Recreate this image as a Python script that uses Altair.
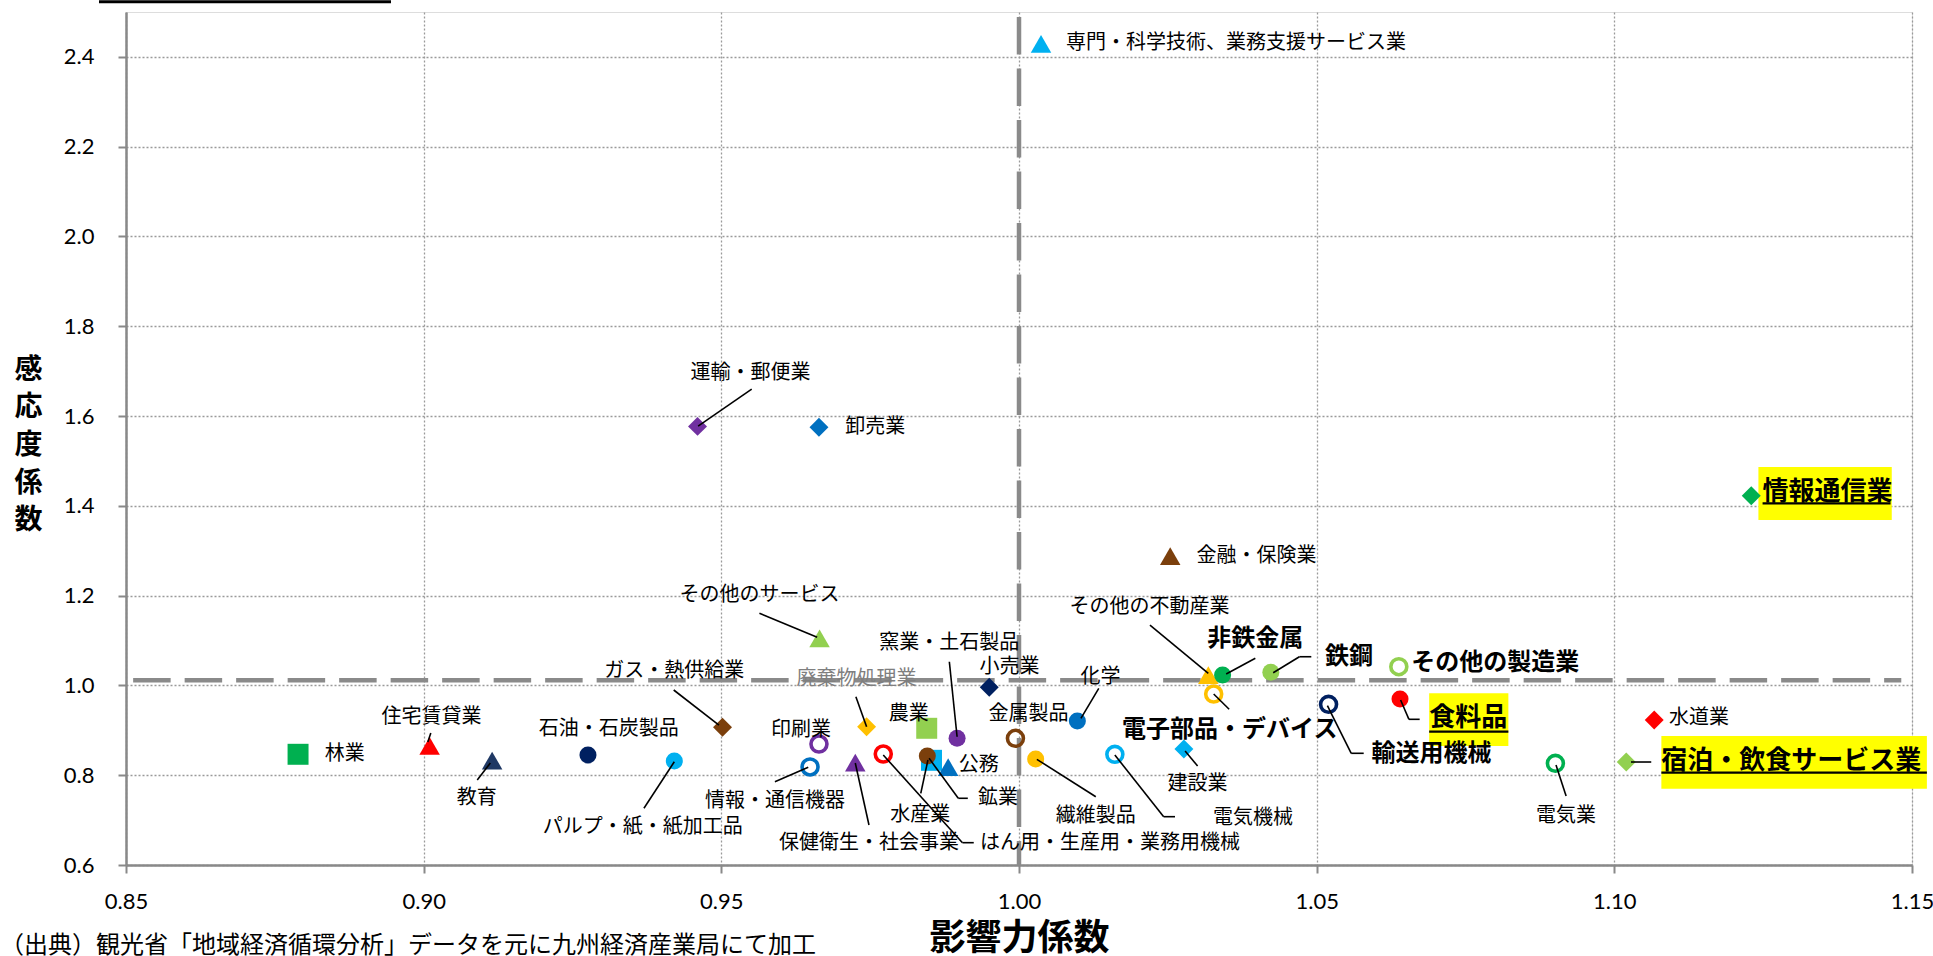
import altair as alt
import pandas as pd

FONT_JP = "Noto Sans CJK JP"
FONT_NUM = "Lato"
BROWN = "#7B3F0C"
GRID_GRAY = "#9A9A9A"
FRAME_GRAY = "#898989"
REF_GRAY = "#8A8A8A"

# ---- industries: influence coefficient (x) and sensitivity coefficient (y) ----
names = [
    "林業", "住宅賃貸業", "教育", "石油・石炭製品", "パルプ・紙・紙加工品", "ガス・熱供給業",
    "その他のサービス", "印刷業", "情報・通信機器", "保健衛生・社会事業", "廃棄物処理業",
    "はん用・生産用・業務用機械", "水産業", "鉱業", "公務", "農業", "窯業・土石製品", "小売業",
    "金属製品", "化学", "繊維製品", "電気機械", "建設業", "その他の不動産業", "非鉄金属", "鉄鋼",
    "電子部品・デバイス", "輸送用機械", "その他の製造業", "食料品", "水道業", "電気業",
    "宿泊・飲食サービス業", "情報通信業", "専門・科学技術、業務支援サービス業", "運輸・郵便業",
    "卸売業", "金融・保険業",
]
influence = [
    0.8789, 0.9010, 0.9115, 0.9276, 0.9421, 0.9502, 0.9665, 0.9664, 0.9649, 0.9725, 0.9744,
    0.9772, 0.9853, 0.9846, 0.9881, 0.9845, 0.9896, 0.9950, 0.9994, 1.0098, 1.0028, 1.0161,
    1.0277, 1.0318, 1.0342, 1.0423, 1.0327, 1.0520, 1.0638, 1.0640, 1.1067, 1.0901, 1.1020,
    1.1230, 1.0037, 0.9460, 0.9664, 1.0254,
]
sensitivity = [
    0.8466, 0.8655, 0.8327, 0.8450, 0.8316, 0.9067, 1.1049, 0.8695, 0.8183, 0.8283, 0.9080,
    0.8472, 0.8332, 0.8428, 0.8178, 0.9045, 0.8822, 0.9958, 0.8822, 0.9207, 0.8361, 0.8465,
    0.8584, 1.0232, 1.0232, 1.0292, 0.9808, 0.9579, 1.0417, 0.9697, 0.9229, 0.8265, 0.8294,
    1.4225, 2.4290, 1.5770, 1.5750, 1.2880,
]
shapes = [
    "square", "triangle-up", "triangle-up", "circle", "circle", "diamond", "triangle-up",
    "circle", "circle", "triangle-up", "diamond", "circle", "square", "circle", "triangle-up",
    "square", "circle", "diamond", "circle", "circle", "circle", "circle", "diamond",
    "triangle-up", "circle", "circle", "circle", "circle", "circle", "circle", "diamond",
    "circle", "diamond", "diamond", "triangle-up", "diamond", "diamond", "triangle-up",
]
colors = [
    "#00B050", "#FF0000", "#1F3864", "#002060", "#00B0F0", BROWN, "#92D050", "#7030A0",
    "#0070C0", "#7030A0", "#FFC000", "#FF0000", "#00B0F0", BROWN, "#0070C0", "#92D050",
    "#7030A0", "#002060", BROWN, "#0070C0", "#FFC000", "#00B0F0", "#00B0F0", "#FFC000",
    "#00B050", "#92D050", "#FFC000", "#002060", "#92D050", "#FF0000", "#FF0000", "#00B050",
    "#92D050", "#00B050", "#00B0F0", "#7030A0", "#0070C0", BROWN,
]
hollow = [
    False, False, False, False, False, False, False, True, True, False, False, True, False,
    False, False, False, False, False, True, False, False, True, False, False, False, False,
    True, True, True, False, False, True, False, False, False, False, False, False,
]

# ---- label anchors (data units) ----
label_x = [
    0.8834, 0.9013, 0.9089, 0.9311, 0.9368, 0.9421, 0.9564, 0.9634, 0.9590, 0.9748, 0.9727,
    1.0153, 0.9834, 0.9931, 0.9899, 0.9815, 0.9883, 0.9984, 1.0016, 1.0137, 1.0129, 1.0393,
    1.0300, 1.0219, 1.0397, 1.0514, 1.0354, 1.0592, 1.0659, 1.0689, 1.1092, 1.0919, 1.1079,
    1.1249, 1.0079, 0.9549, 0.9708, 1.0298,
]
label_y = [
    0.8472, 0.9303, 0.7486, 0.9022, 0.6853, 1.0321, 1.2013, 0.9007, 0.7432, 0.6483, 1.0136,
    0.6483, 0.7114, 0.7486, 0.8227, 0.9363, 1.0938, 1.0403, 0.9363, 1.0180, 0.7098, 0.7040,
    0.7804, 1.1739, 1.1027, 1.0626, 0.9007, 0.8472, 1.0506, 0.9267, 0.9267, 0.7098, 0.8323,
    1.4314, 2.4300, 1.6958, 1.5755, 1.2882,
]
label_anchor = [
    "left", "center", "center", "center", "center", "center", "center", "center", "center",
    "center", "center", "center", "center", "left", "left", "center", "center", "center",
    "center", "center", "center", "center", "center", "center", "center", "left", "center",
    "left", "left", "left", "left", "center", "left", "left", "left", "center", "left", "left",
]
# n = normal, g = grey, b = bold, h = bold on yellow
label_style = [
    "n", "n", "n", "n", "n", "n", "n", "n", "n", "n", "g", "n", "n", "n", "n", "n", "n", "n",
    "n", "n", "n", "n", "n", "n", "b", "b", "b", "b", "b", "h", "n", "n", "h", "h", "n", "n",
    "n", "n",
]

# ---- leader lines (segments in data units) ----
seg_x1 = [0.9012, 0.9090, 0.9370, 0.9420, 0.9564, 0.9590, 0.9748, 0.9726, 0.9772, 0.9905,
          0.9835, 0.9849, 0.9898, 0.9883, 1.0134, 1.0129, 1.0161, 1.0243, 1.0300, 1.0220,
          1.0397, 1.0427, 1.0471, 1.0327, 1.0518, 1.0558, 1.0641, 1.0655, 1.0919, 1.1028,
          0.9551]
seg_y1 = [0.8940, 0.7893, 0.7263, 0.9898, 1.1606, 0.7855, 0.6891, 0.9748, 0.8450, 0.6497,
          0.7597, 0.8376, 0.7486, 1.0528, 0.9935, 0.7521, 0.8450, 0.7076, 0.8205, 1.1345,
          1.0604, 1.0283, 1.0639, 0.9808, 0.9548, 0.8488, 0.9675, 0.9245, 0.7537, 0.8294,
          1.6601]
seg_x2 = [0.9007, 0.9112, 0.9421, 0.9496, 0.9661, 0.9646, 0.9725, 0.9744, 0.9905, 0.9924,
          0.9847, 0.9898, 0.9914, 0.9896, 1.0104, 1.0030, 1.0243, 1.0262, 1.0279, 1.0318,
          1.0348, 1.0471, 1.0491, 1.0353, 1.0558, 1.0579, 1.0655, 1.0673, 1.0902, 1.1062,
          0.9461]
seg_y2 = [0.8740, 0.8272, 0.8300, 0.9118, 1.1071, 0.8176, 0.8272, 0.9080, 0.6497, 0.6497,
          0.8339, 0.7486, 0.7486, 0.8857, 0.9267, 0.8354, 0.7076, 0.7076, 0.8539, 1.0270,
          1.0254, 1.0639, 1.0639, 0.9468, 0.8488, 0.8488, 0.9245, 0.9245, 0.8227, 0.8294,
          1.5777]

# ---- yellow highlight boxes and underlines ----
box_x1 = [1.0689, 1.1079, 1.1242]
box_x2 = [1.0822, 1.1525, 1.1466]
box_y1 = [0.8650, 0.7700, 1.3684]
box_y2 = [0.9824, 0.8873, 1.4864]
underline_x1 = [1.0689, 1.1079, 1.1249]
underline_x2 = [1.0822, 1.1525, 1.1464]
underline_y = [0.8969, 0.8056, 1.4056]

# ---- reference lines ----
ref_x1 = [0.8512, 1.0000]
ref_x2 = [1.1482, 1.0000]
ref_y1 = [1.0114, 2.4890]
ref_y2 = [1.0114, 0.6000]

x_ticks = [0.85, 0.90, 0.95, 1.00, 1.05, 1.10, 1.15]
y_ticks = [0.6, 0.8, 1.0, 1.2, 1.4, 1.6, 1.8, 2.0, 2.2, 2.4]

source_note = "（出典）観光省「地域経済循環分析」データを元に九州経済産業局にて加工"

W, H = 1786, 853

# ---- tables ----
size_by_shape = {"circle": 290, "square": 440, "diamond": 360, "triangle-up": 420}
pts = pd.DataFrame({
    "name": names, "x": influence, "y": sensitivity, "shape": shapes,
    "lx": label_x, "ly": label_y, "anchor": label_anchor, "style": label_style,
})
pts["fill"] = ["transparent" if h else c for c, h in zip(colors, hollow)]
pts["stroke"] = colors
pts["sw"] = [3.6 if h else 0 for h in hollow]
pts["size"] = [255 if h else size_by_shape[s] for s, h in zip(shapes, hollow)]

segs = pd.DataFrame({"x1": seg_x1, "y1": seg_y1, "x2": seg_x2, "y2": seg_y2})
boxes = pd.DataFrame({"x1": box_x1, "x2": box_x2, "y1": box_y1, "y2": box_y2})
ulines = pd.DataFrame({"x1": underline_x1, "x2": underline_x2, "y": underline_y})
refs = pd.DataFrame({"x1": ref_x1, "x2": ref_x2, "y1": ref_y1, "y2": ref_y2})
one = pd.DataFrame({"k": [0]})

x_scale = alt.Scale(domain=[0.85, 1.15], nice=False, zero=False)
y_scale = alt.Scale(domain=[0.6, 2.5], nice=False, zero=False)

common_axis = dict(
    labelFont=FONT_NUM, labelFontSize=22, labelColor="black", labelFlush=False,
    labelOverlap=False, tickSize=8, tickWidth=2, tickColor=FRAME_GRAY,
    domainColor=FRAME_GRAY, domainWidth=2.5, grid=True, gridDash=[2, 2],
    gridColor=GRID_GRAY, gridWidth=1.3, titleFont=FONT_JP, titleColor="black",
    titleFontWeight="bold",
)

x_axis = alt.Axis(
    values=x_ticks, format=".2f", labelPadding=18, title="影響力係数",
    titleFontSize=36, titleX=W / 2, titleY=73, titleAlign="center",
    titleBaseline="middle", **common_axis,
)
# vertical title: one character per line, first line centred at titleY
y_axis = alt.Axis(
    values=y_ticks, format=".1f", labelPadding=24, title=["感", "応", "度", "係", "数"],
    titleAngle=0, titleFontSize=28, titleLineHeight=37.7, titleX=-98, titleY=358,
    titleAlign="center", titleBaseline="middle", **common_axis,
)


def xy(xf, yf):
    # every layer carries the same axis definition so the merged axes stay intact
    return dict(
        x=alt.X(xf, type="quantitative", scale=x_scale, axis=x_axis),
        y=alt.Y(yf, type="quantitative", scale=y_scale, axis=y_axis),
    )


ref_lines = alt.Chart(refs).mark_rule(
    color=REF_GRAY, strokeWidth=4.5, strokeDash=[37.5, 14]
).encode(**xy("x1", "y1"), x2="x2:Q", y2="y2:Q")

hl_boxes = alt.Chart(boxes).mark_rect(color="#FFFF00").encode(
    **xy("x1", "y1"), x2="x2:Q", y2="y2:Q"
)

points = alt.Chart(pts).mark_point(opacity=1, filled=True).encode(
    **xy("x", "y"),
    shape=alt.Shape("shape:N", scale=None),
    fill=alt.Fill("fill:N", scale=None),
    stroke=alt.Stroke("stroke:N", scale=None),
    strokeWidth=alt.StrokeWidth("sw:Q", scale=None),
    size=alt.Size("size:Q", scale=None),
)

leaders = alt.Chart(segs).mark_rule(color="black", strokeWidth=1.6).encode(
    **xy("x1", "y1"), x2="x2:Q", y2="y2:Q"
)

underlines = alt.Chart(ulines).mark_rule(color="black", strokeWidth=2.2).encode(
    **xy("x1", "y"), x2="x2:Q"
)


def labels(style, anchor, size, weight, color="black"):
    return alt.Chart(pts).transform_filter(
        (alt.datum.style == style) & (alt.datum.anchor == anchor)
    ).mark_text(
        align=anchor, baseline="middle", font=FONT_JP, fontSize=size,
        fontWeight=weight, color=color,
    ).encode(**xy("lx", "ly"), text="name:N")


text_layers = [
    labels("n", "center", 20, "normal"),
    labels("n", "left", 20, "normal"),
    labels("g", "center", 20, "normal", "#7F7F7F"),
    labels("b", "center", 24, "bold"),
    labels("b", "left", 24, "bold"),
    labels("h", "left", 26, "bold"),
]

note = alt.Chart(one).mark_text(
    align="left", baseline="middle", font=FONT_JP, fontSize=24, color="black"
).encode(x=alt.value(-126), y=alt.value(934), text=alt.value(source_note))

top_bar = alt.Chart(one).mark_rule(color="black", strokeWidth=3).encode(
    x=alt.value(-27), x2=alt.value(265), y=alt.value(-10.2)
)

chart = alt.layer(
    ref_lines, hl_boxes, points, leaders, underlines, *text_layers, note, top_bar
).properties(
    width=W, height=H,
    padding={"left": 126, "top": 12, "right": 21, "bottom": 91},
    autosize=alt.AutoSizeParams(type="none"),
).configure_view(
    stroke=FRAME_GRAY, strokeWidth=2.5
).configure(background="white")

chart.save("out.html", embed_options={"renderer": "svg", "actions": False})
